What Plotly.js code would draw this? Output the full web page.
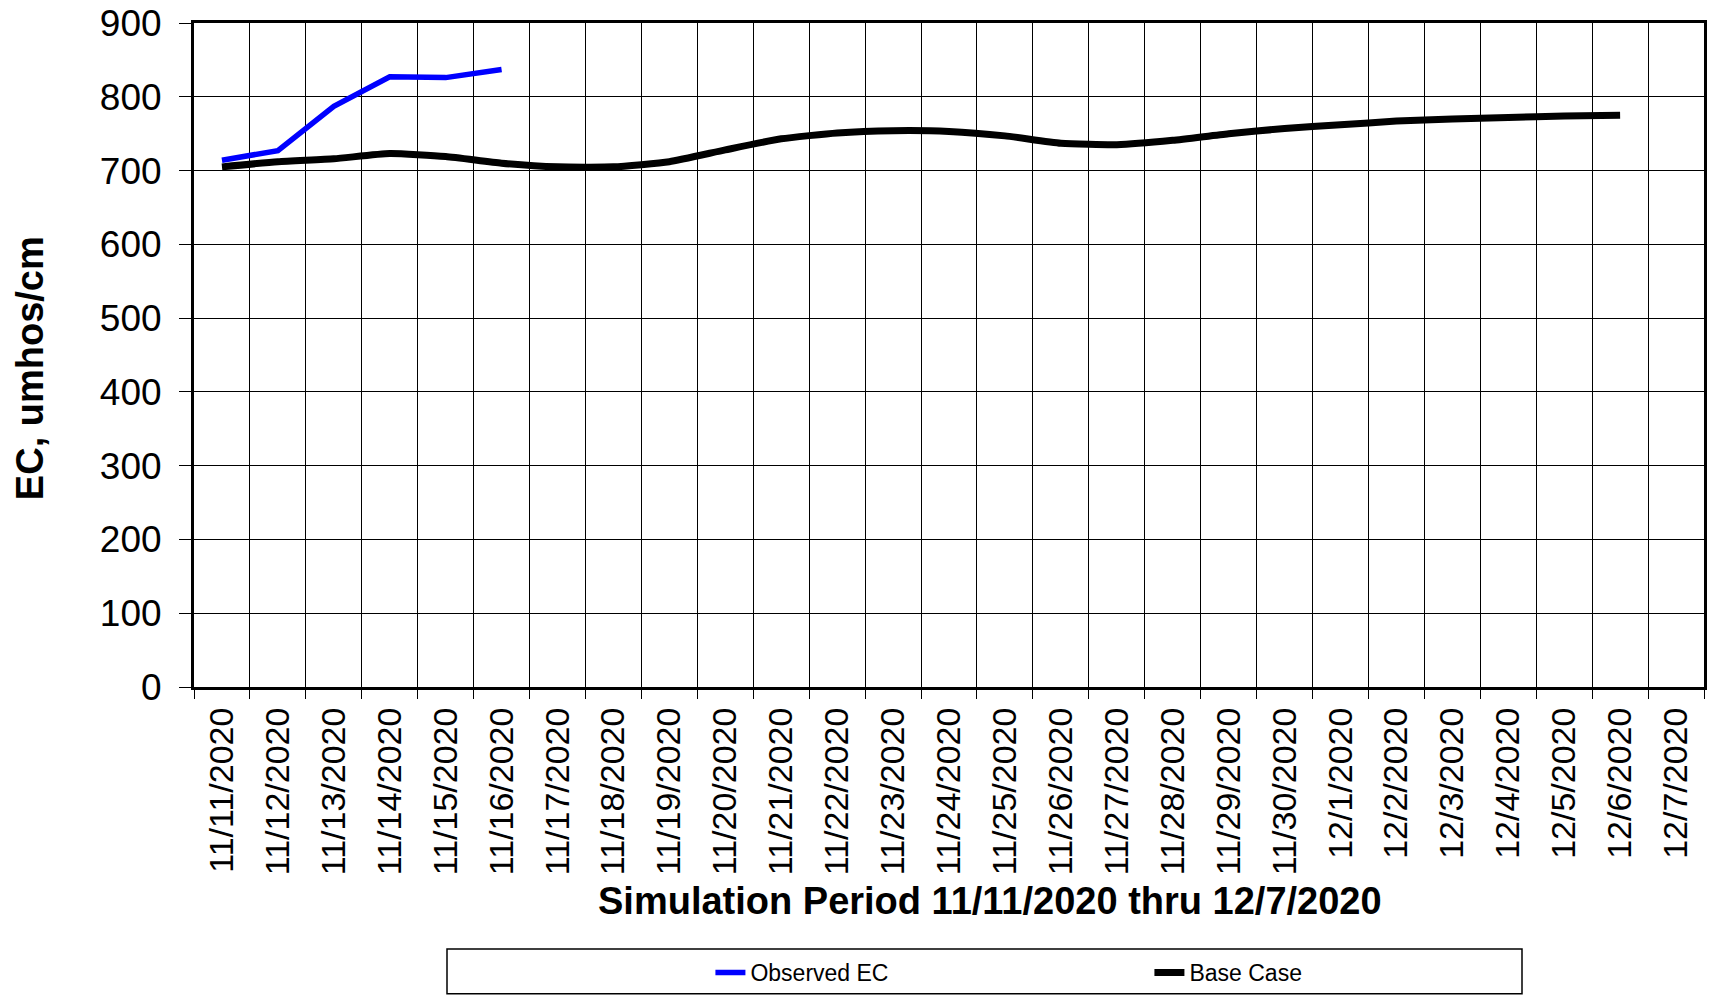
<!DOCTYPE html>
<html>
<head>
<meta charset="utf-8">
<script src="https://cdn.plot.ly/plotly-3.0.1.min.js"></script>
<style>
  html, body { margin: 0; padding: 0; background: #fff; }
  #chart { width: 1711px; height: 995px; }
</style>
</head>
<body>
<div id="chart"></div>
<script>
// Categories (x axis tick labels)
const dates = [
  "11/11/2020", "11/12/2020", "11/13/2020", "11/14/2020", "11/15/2020", "11/16/2020",
  "11/17/2020", "11/18/2020", "11/19/2020", "11/20/2020", "11/21/2020", "11/22/2020",
  "11/23/2020", "11/24/2020", "11/25/2020", "11/26/2020", "11/27/2020", "11/28/2020",
  "11/29/2020", "11/30/2020", "12/1/2020", "12/2/2020", "12/3/2020", "12/4/2020",
  "12/5/2020", "12/6/2020", "12/7/2020"
];

// Observed EC (11/11 - 11/16)
const observedDates = dates.slice(0, 6);
const observedEC = [714, 727, 787, 827, 826, 837];

// Base Case (11/11 - 12/6)
const baseDates = dates.slice(0, 26);
const baseCase = [
  705, 712, 716, 723, 719, 710, 705, 705, 712, 728, 743, 751, 754,
  753, 747, 737, 735, 741, 750, 757, 762, 767, 770, 772, 774, 775
];

const yTicks = [0, 100, 200, 300, 400, 500, 600, 700, 800, 900];

const xTitle = "Simulation Period 11/11/2020 thru 12/7/2020";
const yTitle = "EC, umhos/cm";

const FONT = "Arial, 'Liberation Sans', sans-serif";

const traces = [
  {
    x: observedDates, y: observedEC, name: "Observed EC", type: "scatter", mode: "lines",
    line: { color: "#0000ff", width: 5.5 }
  },
  {
    x: baseDates, y: baseCase, name: "Base Case", type: "scatter", mode: "lines",
    line: { color: "#000000", width: 7, shape: "spline", smoothing: 0.5 }
  }
];

const layout = {
  width: 1711, height: 995,
  paper_bgcolor: "#fff", plot_bgcolor: "#fff",
  margin: { l: 194, r: 7, t: 23, b: 308, autoexpand: false },
  font: { family: FONT, color: "#000" },
  showlegend: true,
  legend: {
    orientation: "h", x: 0.342, xanchor: "left", y: -0.43, yanchor: "middle",
    font: { family: FONT, size: 23, color: "#000" },
    bgcolor: "rgba(0,0,0,0)", borderwidth: 0,
    entrywidth: 394, entrywidthmode: "pixels",
    traceorder: "normal"
  },
  xaxis: {
    type: "category", categoryorder: "array", categoryarray: dates,
    range: [-0.5, dates.length - 0.5],
    tickson: "boundaries", ticks: "outside", ticklen: 9, tickwidth: 1, tickcolor: "#000",
    tickangle: -90, tickfont: { family: FONT, size: 34, color: "#000" },
    ticklabelstandoff: 4,
    showgrid: true, gridcolor: "#000", gridwidth: 1,
    showline: true, mirror: true, linecolor: "#000", linewidth: 3,
    zeroline: false, fixedrange: true
  },
  yaxis: {
    range: [0, 900], tickvals: yTicks, ticktext: yTicks.map(String),
    ticks: "outside", ticklen: 12, tickwidth: 1, tickcolor: "#000",
    tickfont: { family: FONT, size: 37, color: "#000" },
    ticklabelstandoff: 10,
    showgrid: true, gridcolor: "#000", gridwidth: 1,
    showline: true, mirror: true, linecolor: "#000", linewidth: 3,
    zeroline: false, fixedrange: true
  },
  annotations: [
    {
      text: "<b>" + xTitle + "</b>", xref: "paper", yref: "paper",
      x: (990 - 194) / 1510, y: (687 - 901) / 664.3, xanchor: "center", yanchor: "middle",
      showarrow: false, font: { family: FONT, size: 38, color: "#000" }
    },
    {
      text: "<b>" + yTitle + "</b>", xref: "paper", yref: "paper", textangle: -90,
      x: (30 - 194) / 1510, y: (687 - 368) / 664.3, xanchor: "center", yanchor: "middle",
      showarrow: false, font: { family: FONT, size: 38, color: "#000" }
    }
  ],
  shapes: [
    {
      type: "rect", xref: "paper", yref: "paper",
      x0: (447 - 194) / 1510, x1: (1522 - 194) / 1510,
      y0: (687 - 949) / 664.3, y1: (687 - 994) / 664.3,
      line: { color: "#000", width: 1.5 }, fillcolor: "rgba(0,0,0,0)", layer: "above"
    }
  ]
};

Plotly.newPlot("chart", traces, layout, { displayModeBar: false, staticPlot: true });
</script>
</body>
</html>
